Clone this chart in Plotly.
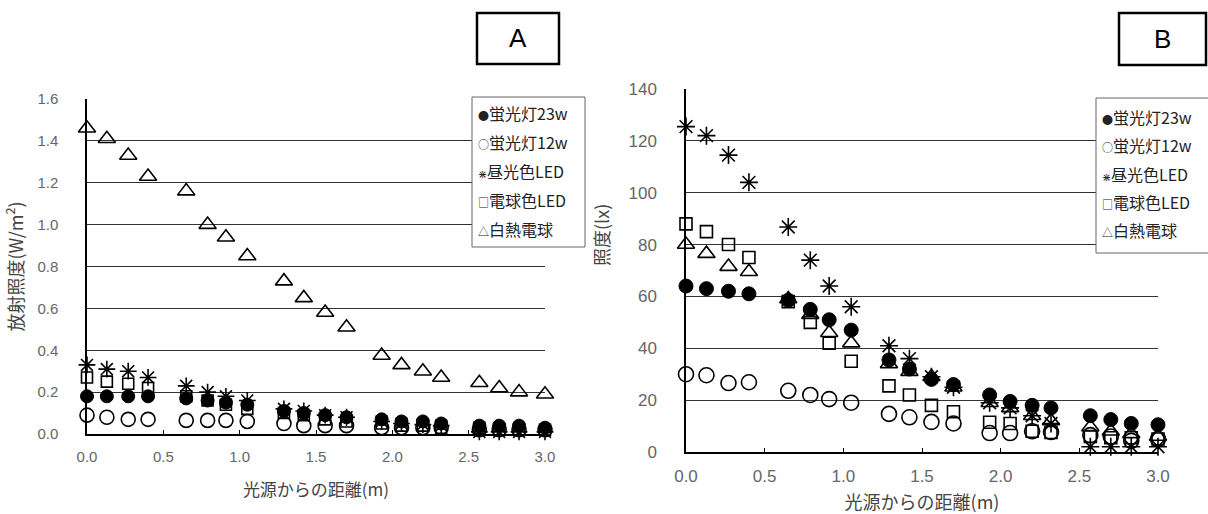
import plotly.graph_objects as go

# ---- data ----
distance_m = [0.0, 0.13, 0.27, 0.40, 0.65, 0.79, 0.91, 1.05, 1.29, 1.42,
              1.56, 1.70, 1.93, 2.06, 2.20, 2.32, 2.57, 2.70, 2.83, 3.00]

series_names = ["蛍光灯23w", "蛍光灯12w", "昼光色LED", "電球色LED", "白熱電球"]
legend_glyphs = ["●", "○", "⋇", "□", "△"]

# A: irradiance (W/m2)
irr_fl23 = [0.18, 0.18, 0.18, 0.18, 0.17, 0.16, 0.15, 0.14, 0.11, 0.10,
            0.09, 0.08, 0.07, 0.06, 0.06, 0.05, 0.04, 0.04, 0.04, 0.03]
irr_fl12 = [0.09, 0.08, 0.07, 0.07, 0.065, 0.065, 0.065, 0.06, 0.05, 0.04,
            0.04, 0.04, 0.03, 0.03, 0.03, 0.03, 0.02, 0.02, 0.02, 0.02]
irr_day = [0.33, 0.31, 0.30, 0.27, 0.23, 0.20, 0.18, 0.16, 0.12, 0.11,
           0.09, 0.08, 0.06, 0.05, 0.045, 0.04, 0.01, 0.01, 0.01, 0.01]
irr_bulbled = [0.27, 0.25, 0.24, 0.22, 0.18, 0.16, 0.14, 0.12, 0.10, 0.09,
               0.07, 0.06, 0.05, 0.04, 0.04, 0.03, 0.03, 0.02, 0.02, 0.02]
irr_incand = [1.46, 1.41, 1.33, 1.23, 1.16, 1.00, 0.94, 0.85, 0.73, 0.65,
              0.58, 0.51, 0.375, 0.33, 0.30, 0.27, 0.245, 0.22, 0.20, 0.19]

# B: illuminance (lx)
lx_fl23 = [64, 63, 62, 61, 58.5, 55, 51, 47, 35.5, 32,
           28, 26, 22, 19.5, 18, 17, 14, 12.5, 11, 10.5]
lx_fl12 = [30, 29.6, 26.6, 26.9, 23.6, 22, 20.4, 19, 14.7, 13.4,
           11.6, 11, 7.3, 7.3, 8, 7.7, 6.5, 6, 4.3, 5]
lx_day = [125.5, 122, 114.5, 104, 86.8, 74, 64, 56, 41, 36,
          29, 25, 19, 17, 14, 11, 2, 2, 2, 2]
lx_bulbled = [88, 85, 80, 75, 58, 50, 42, 35, 25.5, 22,
              18, 15.5, 11.5, 11, 8, 7.5, 6, 5.5, 5.5, 5]
lx_incand = [80, 76.5, 71.5, 69.5, 59, 53, 46, 42, 34, 31,
             29, 25, 19, 17, 14, 12, 9.6, 8, 7, 6]

a_y_ticks = [0.0, 0.2, 0.4, 0.6, 0.8, 1.0, 1.2, 1.4, 1.6]
b_y_ticks = [0, 20, 40, 60, 80, 100, 120, 140]
x_ticks = [0.0, 0.5, 1.0, 1.5, 2.0, 2.5, 3.0]

# ---- styles ----
JP = "Noto Sans CJK JP"
LAT = "Liberation Sans, Arial, sans-serif"
symbols_a = [
    dict(symbol="circle", color="black", size=13, line=dict(color="black", width=1)),
    dict(symbol="circle-open", color="black", size=14, line=dict(color="black", width=1.6)),
    dict(symbol="asterisk-open", color="black", size=14, line=dict(color="black", width=1.6)),
    dict(symbol="square-open", color="black", size=11, line=dict(color="black", width=1.6)),
    dict(symbol="triangle-up-open", color="black", size=15, line=dict(color="black", width=1.6)),
]
symbols_b = [
    dict(symbol="circle", color="black", size=14, line=dict(color="black", width=1)),
    dict(symbol="circle-open", color="black", size=15, line=dict(color="black", width=1.6)),
    dict(symbol="asterisk-open", color="black", size=15, line=dict(color="black", width=1.6)),
    dict(symbol="square-open", color="black", size=12, line=dict(color="black", width=1.6)),
    dict(symbol="triangle-up-open", color="black", size=15, line=dict(color="black", width=1.6)),
]

fig = go.Figure()

a_data = [irr_fl23, irr_fl12, irr_day, irr_bulbled, irr_incand]
b_data = [lx_fl23, lx_fl12, lx_day, lx_bulbled, lx_incand]

for name, ys, mk in zip(series_names, a_data, symbols_a):
    fig.add_trace(go.Scatter(x=distance_m, y=ys, mode="markers", name=name,
                             marker=mk, xaxis="x", yaxis="y", showlegend=False,
                             cliponaxis=False))
for name, ys, mk in zip(series_names, b_data, symbols_b):
    fig.add_trace(go.Scatter(x=distance_m, y=ys, mode="markers", name=name,
                             marker=mk, xaxis="x2", yaxis="y2", showlegend=False,
                             cliponaxis=False))

W, H = 1208, 514
def px(x0, x1):
    return [x0 / W, x1 / W]
def py(top, bottom):
    return [1 - bottom / H, 1 - top / H]

axis_common = dict(showline=True, linecolor="black", linewidth=1.5, zeroline=False)

fig.update_layout(
    width=W, height=H,
    margin=dict(l=0, r=0, t=0, b=0, autoexpand=False),
    paper_bgcolor="white", plot_bgcolor="white",
    font=dict(family=JP, color="#333"),
    xaxis=dict(domain=px(87, 545), range=[0, 3], tickvals=x_ticks,
               ticktext=[f"{v:.1f}" for v in x_ticks], showgrid=False,
               ticks="inside", ticklen=4, tickcolor="black", ticklabelstandoff=8,
               tickfont=dict(family=LAT, size=15, color="#666"),
               title=dict(text="光源からの距離(m)", font=dict(family=JP, size=17, color="#444"),
                          standoff=20),
               anchor="y", **axis_common),
    yaxis=dict(domain=py(99, 434), range=[0, 1.6], tickvals=a_y_ticks,
               ticktext=[f"{v:.1f}" for v in a_y_ticks], showgrid=True,
               gridcolor="#333", gridwidth=1.2, ticks="", ticklabelstandoff=24,
               tickfont=dict(family=LAT, size=15, color="#666"),
               title=dict(text="放射照度(W/m<sup>2</sup>)", font=dict(family=JP, size=18, color="#444"),
                          standoff=11),
               anchor="x", **axis_common),
    xaxis2=dict(domain=px(686, 1158), range=[0, 3], tickvals=x_ticks,
                ticktext=[f"{v:.1f}" for v in x_ticks], showgrid=False,
                ticks="inside", ticklen=4, tickcolor="black", ticklabelstandoff=8,
                tickfont=dict(family=LAT, size=17, color="#666"),
                title=dict(text="光源からの距離(m)", font=dict(family=JP, size=18, color="#444"),
                           standoff=22),
                anchor="y2", **axis_common),
    yaxis2=dict(domain=py(89, 452), range=[0, 140], tickvals=b_y_ticks,
                ticktext=[str(v) for v in b_y_ticks], showgrid=True,
                gridcolor="#333", gridwidth=1.2, ticks="", ticklabelstandoff=24,
                tickfont=dict(family=LAT, size=17, color="#666"),
                anchor="x2", **axis_common),
)

shapes = [
    dict(type="rect", xref="paper", yref="paper", layer="above",
         x0=477 / W, x1=559 / W, y0=1 - 64 / H, y1=1 - 13 / H,
         line=dict(color="black", width=2.5)),
    dict(type="rect", xref="paper", yref="paper", layer="above",
         x0=1119 / W, x1=1206 / W, y0=1 - 65 / H, y1=1 - 13 / H,
         line=dict(color="black", width=2.5)),
]
annotations = [
    dict(text="A", xref="paper", yref="paper", x=518 / W, y=1 - 38.5 / H,
         xanchor="center", yanchor="middle",
         showarrow=False, font=dict(family=LAT, size=26, color="black")),
    dict(text="B", xref="paper", yref="paper", x=1162.5 / W, y=1 - 39 / H,
         xanchor="center", yanchor="middle",
         showarrow=False, font=dict(family=LAT, size=26, color="black")),
    # y-axis title of panel B (sits above the axis centre in the reference)
    dict(text="照度(lx)", xref="paper", yref="paper", x=601 / W, y=1 - 235 / H,
         xanchor="center", yanchor="middle", textangle=-90,
         showarrow=False, font=dict(family=JP, size=18, color="#444")),
]

# legends drawn as framed text boxes, one per panel
def add_legend(left, top, right, bottom, first_y, step, size):
    shapes.append(dict(type="rect", xref="paper", yref="paper", layer="above",
                       x0=left / W, x1=right / W, y0=1 - bottom / H, y1=1 - top / H,
                       line=dict(color="#666", width=1), fillcolor="white"))
    for i, (g, n) in enumerate(zip(legend_glyphs, series_names)):
        annotations.append(dict(
            text=f"<span style='font-size:{size - 5}px'>{g}</span>{n}",
            xref="paper", yref="paper", x=(left + 4) / W, y=1 - (first_y + i * step) / H,
            xanchor="left", yanchor="middle", showarrow=False,
            font=dict(family=JP, size=size, color="#222")))

add_legend(472, 97, 585, 247, 113, 29, 16)
add_legend(1096, 98, 1212, 253, 117, 28.3, 16)

fig.update_layout(shapes=shapes, annotations=annotations)

fig.write_html("out.html")
